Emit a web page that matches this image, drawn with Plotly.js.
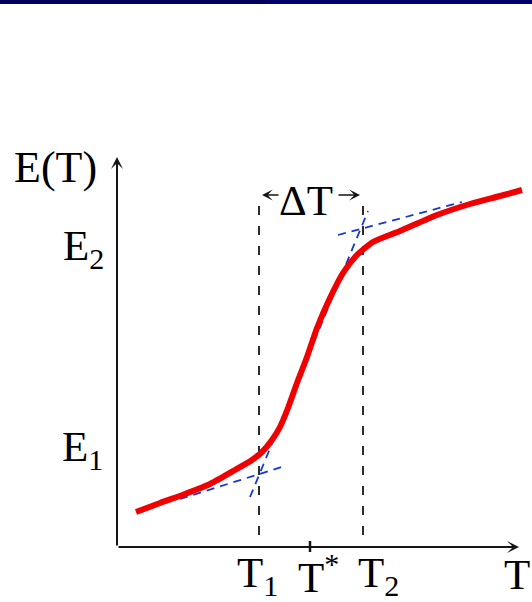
<!DOCTYPE html>
<html>
<head>
<meta charset="utf-8">
<script src="https://cdn.plot.ly/plotly-3.0.1.min.js"></script>
<style>
html,body{margin:0;padding:0;background:#fff;}
#chart{width:532px;height:602px;}
</style>
</head>
<body>
<div id="chart"></div>
<script>
// Schematic S-shaped curve E(T) (arbitrary units)
const curveT = [0.475, 1.075, 1.7, 2.325, 2.95, 3.375, 3.625, 3.875, 4.075, 4.275, 4.5, 4.75, 5.0, 5.325, 5.65, 6.0, 6.4, 7.075, 8.0, 8.825, 9.575, 10.125];
const curveE = [0.875, 1.1, 1.325, 1.575, 1.925, 2.175, 2.375, 2.675, 3.0, 3.475, 4.1, 4.75, 5.475, 6.225, 6.85, 7.3, 7.625, 7.9, 8.3, 8.575, 8.775, 8.925];

// Tangent lines (blue dashed)
const lowTanT = [1.575, 4.2];
const lowTanE = [1.2, 2.025];
const steepTanT = [3.325, 6.275];
const steepTanE = [1.25, 8.4];
const upTanT = [5.525, 8.625];
const upTanE = [7.8, 8.625];

// Characteristic temperatures
const T1 = 3.55;
const T2 = 6.15;
const Tstar = 4.825;
const vLine1E = [0.3, 8.6];
const vLine2E = [0.3, 8.55];

// Axis extents
const axisTmax = 10.05;
const axisEmax = 9.75;

// Labels
const labelText = ['E(T)', 'E<sub>2</sub>', 'E<sub>1</sub>', 'T<sub>1</sub>', 'T<sup>*</sup>', 'T<sub>2</sub>', 'T', '\u0394T'];
const labelT = [-1.55, -0.85, -0.875, 3.5, 5.025, 6.525, 10.0, 4.725];
const labelE = [9.5, 7.45, 2.42, -0.72, -0.68, -0.72, -0.68, 8.675];
const labelSize = [44, 43, 43, 43, 43, 43, 43, 43];

const serif = 'Liberation Serif';
const blue = 'rgb(25,55,200)';
const ink = '#151515';

const traces = [
  {x: [T1, T1], y: vLine1E, mode: 'lines', line: {color: ink, width: 1.8, dash: '9px,11px'}},
  {x: [T2, T2], y: vLine2E, mode: 'lines', line: {color: ink, width: 1.8, dash: '9px,11px'}},
  {x: lowTanT, y: lowTanE, mode: 'lines', line: {color: blue, width: 1.8, dash: '8px,6px'}},
  {x: steepTanT, y: steepTanE, mode: 'lines', line: {color: blue, width: 1.8, dash: '8px,6px'}},
  {x: upTanT, y: upTanE, mode: 'lines', line: {color: blue, width: 1.8, dash: '8px,6px'}},
  {x: curveT, y: curveE, mode: 'lines', line: {color: 'rgb(240,0,0)', width: 6, shape: 'spline', smoothing: 0.6}},
  {x: [Tstar, Tstar], y: [0.15, -0.125], mode: 'lines', line: {color: ink, width: 2.5}}
];

const annotations = [];
annotations.push({x: axisTmax, y: 0, ax: 0, ay: 0, xref: 'x', yref: 'y', axref: 'x', ayref: 'y',
  text: '', showarrow: true, arrowhead: 3, arrowsize: 1, arrowwidth: 2, arrowcolor: ink, standoff: 0});
annotations.push({x: 0, y: axisEmax, ax: 0, ay: 0, xref: 'x', yref: 'y', axref: 'x', ayref: 'y',
  text: '', showarrow: true, arrowhead: 3, arrowsize: 1, arrowwidth: 2, arrowcolor: ink, standoff: 0});
annotations.push({x: 3.625, y: 8.8, ax: 4.075, ay: 8.8, xref: 'x', yref: 'y', axref: 'x', ayref: 'y',
  text: '', showarrow: true, arrowhead: 3, arrowsize: 1.2, arrowwidth: 1.5, arrowcolor: ink, standoff: 0});
annotations.push({x: 6.075, y: 8.8, ax: 5.5, ay: 8.8, xref: 'x', yref: 'y', axref: 'x', ayref: 'y',
  text: '', showarrow: true, arrowhead: 3, arrowsize: 1.2, arrowwidth: 1.5, arrowcolor: ink, standoff: 0});

for (let i = 0; i < labelText.length; i++) {
  annotations.push({x: labelT[i], y: labelE[i], xref: 'x', yref: 'y', text: labelText[i], showarrow: false,
    xanchor: 'center', yanchor: 'middle', font: {family: serif, size: labelSize[i], color: '#000'}});
}

const layout = {
  width: 532, height: 602,
  margin: {l: 0, r: 0, t: 0, b: 0, pad: 0},
  paper_bgcolor: '#fff', plot_bgcolor: '#fff',
  showlegend: false,
  font: {family: serif},
  xaxis: {range: [-2.925, 10.375], visible: false, fixedrange: true},
  yaxis: {range: [-1.375, 13.675], visible: false, fixedrange: true},
  shapes: [
    {type: 'rect', xref: 'paper', yref: 'paper', x0: 0, x1: 0.5, y0: 1 - 4/602, y1: 1, line: {width: 0}, fillcolor: '#00005a'},
    {type: 'rect', xref: 'paper', yref: 'paper', x0: 0.5, x1: 1, y0: 1 - 4/602, y1: 1, line: {width: 0}, fillcolor: '#00006c'}
  ],
  annotations: annotations
};

Plotly.newPlot('chart', traces, layout, {staticPlot: true, displayModeBar: false});
</script>
</body>
</html>
